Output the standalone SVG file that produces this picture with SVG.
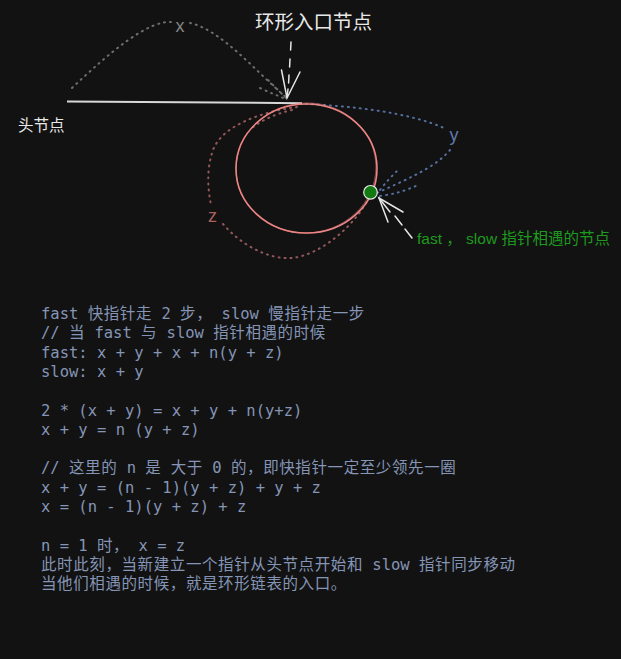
<svg xmlns="http://www.w3.org/2000/svg" width="621" height="659" viewBox="0 0 621 659">
<style>
.sans{font-family:"Liberation Sans","Noto Sans CJK SC",sans-serif}
.mono{font-family:"DejaVu Sans Mono","Noto Sans CJK SC",monospace;font-size:15.5px;fill:#8595b6}
.cj{letter-spacing:0.6px}
.dot{fill:none;stroke-width:2;stroke-linecap:round;stroke-dasharray:1 5}
.gx{stroke:#6e6e6e}.gy{stroke:#5670a0}.gz{stroke:#94585a}
.wl{fill:none;stroke:#e6e6e6;stroke-width:1.5;stroke-linecap:round}
</style>
<rect width="621" height="659" fill="#121212"/>

<g id="connectors">
  <!-- x path (head to entry) -->
  <path class="dot gx" d="M72,88 C110,52 148,20 172,22 M190,23 C222,30 258,74 287,98"/>
  <path class="dot gx" d="M260,88 C270,93 280,96 287,100 M268,80 C276,88 282,94 286,98"/>
  <!-- y path (entry to meet, clockwise) -->
  <path class="dot gy" d="M306,104 C350,106 410,112 446,129"/>
  <path class="dot gy" d="M450,150 C435,168 405,180 377,193"/>
  <path class="dot gy" d="M380,196 C395,194 408,190 420,184 M380,190 C386,182 392,176 398,170"/>
  <!-- z path (meet back to entry) -->
  <path class="dot gz" d="M297,107 C260,112 222,126 213,150 C206,170 208,190 211,205"/>
  <path class="dot gz" d="M223,224 C240,244 268,260 292,258 C320,255 352,228 368,200"/>
  <path class="dot gz" d="M292,110 C275,114 262,120 252,128"/>
  <!-- head line -->
  <path d="M67,101.5 L302,103.2" fill="none" stroke="#d8d8d8" stroke-width="2"/>
  <!-- entry arrow -->
  <path class="wl" d="M291,42 L290.6,50 M290,59 L289.6,67 M289,75 L288.6,83 M288,89 L287,97"/>
  <path class="wl" d="M281.5,70 L287,98 L300,72"/>
  <!-- meet arrow -->
  <path class="wl" d="M412,238 L405,229 M402,225 L395,216 M390,212 L379,198"/>
  <path class="wl" d="M388,222 L379,198 L403,212"/>
</g>

<g id="loop">
  <ellipse cx="306.5" cy="168.5" rx="70.5" ry="64.5" fill="none" stroke="#ee8585" stroke-width="1.6"/>
  <ellipse cx="306" cy="168" rx="70" ry="65" fill="none" stroke="#ee8585" stroke-width="0.8" opacity="0.6" transform="rotate(-6 306 168)"/>
</g>

<g id="meet-node">
  <circle cx="370.5" cy="192.3" r="6.8" fill="#137a13" stroke="#e8e8e8" stroke-width="1.2"/>
</g>

<g id="entry-title">
  <text x="255" y="29" class="sans" font-size="19.5" fill="#e8e8e8">环形入口节点</text>
</g>

<g id="head-node">
  <text x="18" y="131" class="sans" font-size="15.5" fill="#e8e8e8">头节点</text>
</g>

<g id="segment-labels">
  <text x="180" y="32" class="sans" font-size="18" fill="#858585" text-anchor="middle">x</text>
  <text x="454" y="141" class="sans" font-size="18" fill="#5f7aab" text-anchor="middle">y</text>
  <text x="212.5" y="222" class="sans" font-size="18" fill="#a8605f" text-anchor="middle">z</text>
</g>

<g id="meet-label">
  <text x="417" y="244" class="sans" font-size="15.5" fill="#1e9a1e">fast ， slow 指针相遇的节点</text>
</g>

<g id="code">
  <text class="mono" x="41" y="319">fast <tspan class="cj">快指针走</tspan> 2 <tspan class="cj">步，</tspan> slow <tspan class="cj">慢指针走一步</tspan></text>
  <text class="mono" x="41" y="338.3">// <tspan class="cj">当</tspan> fast <tspan class="cj">与</tspan> slow <tspan class="cj">指针相遇的时候</tspan></text>
  <text class="mono" x="41" y="357.6">fast: x + y + x + n(y + z)</text>
  <text class="mono" x="41" y="376.9">slow: x + y</text>
  <text class="mono" x="41" y="415.5">2 * (x + y) = x + y + n(y+z)</text>
  <text class="mono" x="41" y="434.8">x + y = n (y + z)</text>
  <text class="mono" x="41" y="473.4">// <tspan class="cj">这里的</tspan> n <tspan class="cj">是</tspan> <tspan class="cj">大于</tspan> 0 <tspan class="cj">的，即快指针一定至少领先一圈</tspan></text>
  <text class="mono" x="41" y="492.7">x + y = (n - 1)(y + z) + y + z</text>
  <text class="mono" x="41" y="512">x = (n - 1)(y + z) + z</text>
  <text class="mono" x="41" y="550.6">n = 1 <tspan class="cj">时，</tspan> x = z</text>
  <text class="mono" x="41" y="569.9"><tspan class="cj">此时此刻，当新建立一个指针从头节点开始和</tspan> slow <tspan class="cj">指针同步移动</tspan></text>
  <text class="mono" x="41" y="589.2"><tspan class="cj">当他们相遇的时候，就是环形链表的入口。</tspan></text>
</g>
</svg>
